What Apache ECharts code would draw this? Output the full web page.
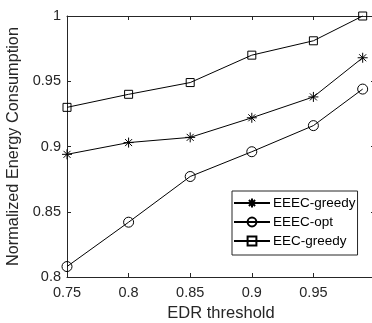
<!DOCTYPE html>
<html>
<head>
<meta charset="utf-8">
<script src="https://cdn.jsdelivr.net/npm/echarts@6/dist/echarts.min.js"></script>
<style>
  html, body { margin: 0; padding: 0; background: #fff; }
  #chart { width: 372px; height: 323px; }
</style>
</head>
<body>
<div id="chart"></div>
<script>
// EDR threshold values
const edr = [0.75, 0.8, 0.85, 0.9, 0.95, 0.99];
const eeecGreedy = [0.894, 0.903, 0.907, 0.922, 0.938, 0.968];
const eeecOpt = [0.808, 0.842, 0.877, 0.896, 0.916, 0.944];
const eecGreedy = [0.930, 0.940, 0.949, 0.970, 0.981, 1.0];
const xTicks = [0.75, 0.8, 0.85, 0.9, 0.95, 1];
const yTicks = [0.8, 0.85, 0.9, 0.95, 1];

const axisColor = '#262626';
const font = 'Liberation Sans';
// matlab style asterisk (plus + x)
const asterisk = 'path://M5,0L5,10M0,5L10,5M1.5,1.5L8.5,8.5M1.5,8.5L8.5,1.5';

const pairs = (ys) => edr.map((x, i) => [x, ys[i]]);

const lineSeries = (name, ys, symbol, size) => ({
  name: name,
  type: 'line',
  data: pairs(ys),
  symbol: symbol,
  symbolSize: size,
  showAllSymbol: true,
  clip: false,
  lineStyle: { color: '#000', width: 1 },
  itemStyle: { color: 'rgba(0,0,0,0)', borderColor: '#000', borderWidth: 1 },
  emphasis: { disabled: true },
  animation: false
});

const chart = echarts.init(document.getElementById('chart'));

const baseX = {
  type: 'value',
  min: xTicks[0],
  max: xTicks[xTicks.length - 1],
  interval: 0.05,
  axisLine: { show: true, lineStyle: { color: axisColor, width: 1 } },
  axisTick: { show: true, inside: true, length: 4, lineStyle: { color: axisColor } },
  splitLine: { show: false }
};
const baseY = {
  type: 'value',
  min: yTicks[0],
  max: yTicks[yTicks.length - 1],
  interval: 0.05,
  axisLine: { show: true, lineStyle: { color: axisColor, width: 1 } },
  axisTick: { show: true, inside: true, length: 4, lineStyle: { color: axisColor } },
  splitLine: { show: false }
};

chart.setOption({
  animation: false,
  textStyle: { fontFamily: font },
  grid: {
    left: 67, top: 16, right: -3, bottom: 46,
    containLabel: false,
    outerBoundsMode: 'none'
  },
  xAxis: [
    Object.assign({}, baseX, {
      position: 'bottom',
      name: 'EDR threshold',
      nameLocation: 'middle',
      nameGap: 27,
      nameTextStyle: { color: axisColor, fontSize: 16.5, fontFamily: font },
      axisLabel: {
        color: axisColor, fontSize: 14.5, margin: 8, fontFamily: font,
        formatter: (v) => String(+v.toFixed(2))
      }
    }),
    Object.assign({}, baseX, {
      position: 'top',
      axisLabel: { show: false }
    })
  ],
  yAxis: [
    Object.assign({}, baseY, {
      position: 'left',
      name: 'Normalized Energy Consumption',
      nameLocation: 'middle',
      nameGap: 37,
      nameTextStyle: { color: axisColor, fontSize: 16.3, fontFamily: font },
      axisLabel: {
        color: axisColor, fontSize: 14.5, margin: 6, fontFamily: font,
        formatter: (v) => String(+v.toFixed(2))
      }
    }),
    Object.assign({}, baseY, {
      position: 'right',
      axisLabel: { show: false }
    })
  ],
  legend: {
    orient: 'vertical',
    left: 232,
    top: 191,
    width: 124,
    padding: [5, 2, 7, 1],
    itemWidth: 36,
    itemHeight: 11,
    itemGap: 5,
    backgroundColor: '#fff',
    borderColor: axisColor,
    borderWidth: 1,
    borderRadius: 0,
    textStyle: { color: '#000', fontSize: 13.5, fontFamily: font, padding: [0, 0, 0, -2] },
    data: ['EEEC-greedy', 'EEEC-opt', 'EEC-greedy']
  },
  series: [
    lineSeries('EEEC-greedy', eeecGreedy, asterisk, 10),
    lineSeries('EEEC-opt', eeecOpt, 'circle', 10),
    lineSeries('EEC-greedy', eecGreedy, 'rect', 8)
  ]
});
</script>
</body>
</html>
